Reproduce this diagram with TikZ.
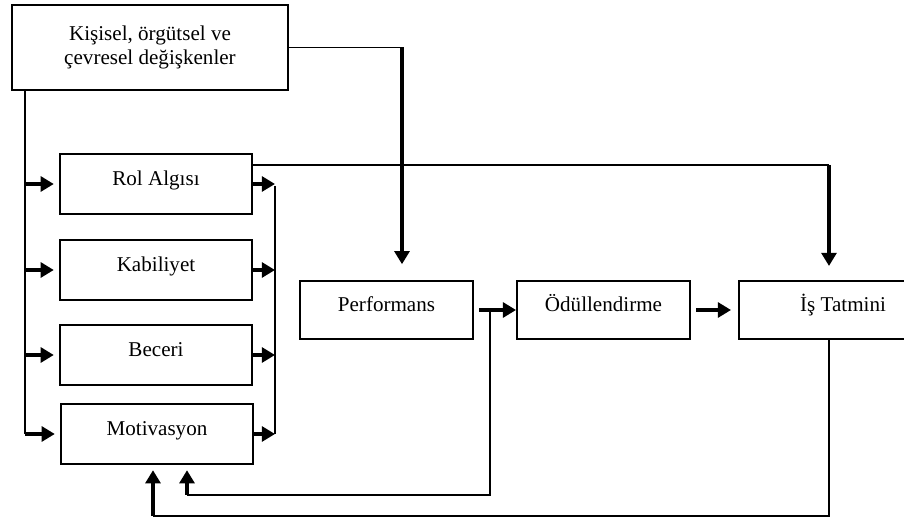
\documentclass[tikz,border=0pt]{standalone}
\usepackage{fontspec}
\setmainfont{Liberation Serif}
\usetikzlibrary{arrows.meta,positioning,calc}

\begin{document}
\begin{tikzpicture}[x=0.02cm, y=-0.02cm,
    kutu/.style={rectangle, draw, line width=1.1pt, minimum width=3.84cm,
                 minimum height=1.2cm, text height=9pt, text depth=7.5pt,
                 font=\fontsize{12}{14}\selectfont},
    ince/.style={line width=1.1pt},
    kalin/.style={-{Triangle[length=7.5pt,width=8.5pt]}, line width=2.8pt}
  ]
  \useasboundingbox (0,0) rectangle (904,520);
  \clip (0,0) rectangle (904,520);

  \node[kutu, minimum width=5.52cm, minimum height=1.7cm, align=center,
        text height=, text depth=] (deg) at (150,47.5)
    {Kişisel, örgütsel ve\\çevresel değişkenler};
  \node[kutu] (rol) at (156,184) {Rol Algısı};
  \node[kutu] (kab) at (156,270) {Kabiliyet};
  \node[kutu] (bec) at (156,355) {Beceri};
  \node[kutu] (mot) at (157,434) {Motivasyon};
  \node[kutu, minimum width=3.46cm, minimum height=1.16cm] (perf) at (386.5,310) {Performans};
  \node[kutu, minimum width=3.46cm, minimum height=1.16cm] (odul) at (603.5,310) {Ödüllendirme};
  \node[kutu, minimum width=4.16cm, minimum height=1.16cm] (is) at (843,310) {İş Tatmini};

  \coordinate (lbus) at (25,90);
  \coordinate (rbus) at (275,186);
  \coordinate (k1) at (402,47.5);
  \coordinate (k2) at (829,165);
  \coordinate (k3) at (490,310);
  \coordinate (k5) at (187,495);
  \coordinate (k7) at (153,516);

  \draw[ince] (lbus) -- (lbus |- mot.west);
  \draw[ince] (rbus) -- (rbus |- mot.east);
  \foreach \n in {rol,kab,bec,mot} {
    \draw[kalin, shorten >=3pt] (lbus |- \n.west) -- (\n.west);
    \draw[kalin] (\n.east) -- (rbus |- \n.east);
  }

  \draw[ince] (deg.east) -- (k1);
  \draw[kalin, shorten >=9pt] (k1) -- (k1 |- perf.north);
  \draw[ince] (rol.east |- k2) -- (k2);
  \draw[kalin, shorten >=8pt] (k2) -- (k2 |- is.north);

  \draw[kalin, shorten <=3pt] (perf.east) -- (odul.west);
  \draw[kalin, shorten <=3pt, shorten >=4pt] (odul.east) -- (odul.east -| is.west);

  \draw[ince] (k3) |- (k5);
  \draw[kalin, shorten >=3pt] (k5) -- (k5 |- mot.south);
  \draw[ince] (k2 |- is.south) |- (k7);
  \draw[kalin, shorten >=3pt] (k7) -- (k7 |- mot.south);
\end{tikzpicture}
\end{document}
